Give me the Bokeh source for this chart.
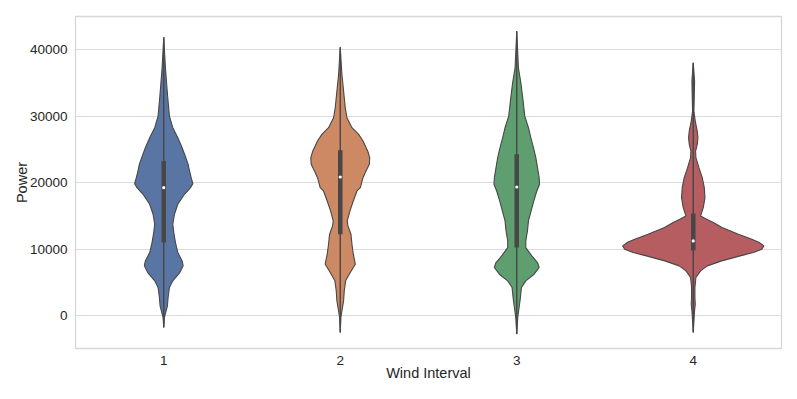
from bokeh.plotting import figure
from bokeh.models import FixedTicker, NumeralTickFormatter
from bokeh.embed import file_html
from bokeh.resources import INLINE

categories = ["1", "2", "3", "4"]
colors = ["#5975a4", "#cc8963", "#5f9e6e", "#b55d60"]

# estimated KDE profiles (value, relative density)
v1_y = [41850, 37250, 35250, 32750, 30000, 28250, 26750, 25250, 23750, 22750, 21750, 20750, 19850,
        19250, 18250, 16750, 15250, 13750, 12500, 11000, 9500, 8250, 7500, 6500, 5250, 4250, 2750,
        1500, 500, -250, -1750]
v1_d = [0, 5, 8, 12, 17, 27, 42, 55, 66, 73, 77, 82, 87,
        80, 62, 42, 32, 27, 30, 35, 42, 55, 58, 48, 27, 17, 13,
        11, 6, 2, 0]

v2_y = [40350, 36250, 33750, 31250, 29750, 28250, 27250, 26250, 24750, 23750, 22750, 21750, 20750,
        19250, 18750, 17250, 15750, 14250, 13500, 12250, 10750, 9250, 7750, 6500, 5250, 3750, 2250,
        750, -250, -2500]
v2_d = [0, 5, 10, 15, 20, 35, 55, 68, 82, 88, 87, 77, 68,
        60, 50, 39, 29, 21, 23, 32, 35, 39, 45, 30, 16, 12, 10,
        5, 2, 0]

v3_y = [42750, 37250, 34750, 32250, 30000, 28250, 26750, 25250, 23750, 22250, 20750, 19750, 18750,
        17250, 15750, 14250, 12750, 11250, 10250, 9000, 8000, 7250, 6250, 5250, 4250, 2750, 1250,
        -250, -2750]
v3_d = [0, 5, 13, 19, 24, 35, 42, 50, 57, 62, 67, 68, 60,
        51, 43, 35, 32, 27, 27, 45, 62, 67, 52, 27, 14, 11, 7,
        3, 0]

v4_y = [38000, 35250, 32750, 30750, 29250, 27750, 26750, 25750, 24750, 23750, 22250, 20750, 19250,
        17750, 16250, 15000, 14500, 14000, 13250, 12250, 11500, 11000, 10500, 10000, 9500, 9000,
        8250, 7500, 6750, 5750, 4250, 2750, 1750, 750, -750, -2500]
v4_d = [0, 4, 3, 2, 6, 12, 14, 12, 7, 8, 17, 27, 33,
        35, 30, 22, 40, 60, 86, 135, 175, 198, 211, 205, 180, 140,
        85, 42, 22, 8, 5, 5, 6, 4, 2, 0]

# box stats (q1, median, q3, whisker low, whisker high)
q1 = [11000, 12250, 10250, 9850]
med = [19250, 20850, 19350, 11250]
q3 = [23250, 24850, 24250, 15350]
wlo = [-1750, -2500, -2750, -2500]
whi = [41850, 40350, 42750, 38000]

profiles = [(v1_y, v1_d), (v2_y, v2_d), (v3_y, v3_d), (v4_y, v4_d)]
dmax = max(max(d) for _, d in profiles)

p = figure(width=789, height=391, x_range=(-0.5, 3.5), y_range=(-4910, 44955),
           output_backend="svg", toolbar_location=None,
           min_border_left=75, min_border_right=8, min_border_top=16, min_border_bottom=43)

p.background_fill_color = "white"
p.outline_line_color = "#d6d6d6"
p.outline_line_width = 1.3
p.xgrid.grid_line_color = None
p.ygrid.grid_line_color = "#dcdcdc"
p.ygrid.grid_line_width = 1.2

line_col = "#474747"
for i, (ys, ds) in enumerate(profiles):
    right = [i + 0.4 * d / dmax for d in ds]
    left = [i - 0.4 * d / dmax for d in ds]
    xs = right + left[::-1]
    yy = ys + ys[::-1]
    p.patch(xs, yy, fill_color=colors[i], line_color=line_col, line_width=1.1)
    p.segment(x0=[i], y0=[wlo[i]], x1=[i], y1=[whi[i]], line_color=line_col, line_width=1.4)
    p.segment(x0=[i], y0=[q1[i]], x1=[i], y1=[q3[i]], line_color=line_col, line_width=4.5)
    p.scatter(x=[i], y=[med[i]], size=3.2, fill_color="white", line_color=None)

p.xaxis.ticker = FixedTicker(ticks=[0, 1, 2, 3])
p.xaxis.major_label_overrides = {i: c for i, c in enumerate(categories)}
p.yaxis.ticker = FixedTicker(ticks=[0, 10000, 20000, 30000, 40000])
p.yaxis.formatter = NumeralTickFormatter(format="0")

for ax in (p.xaxis[0], p.yaxis[0]):
    ax.axis_line_color = None
    ax.major_tick_line_color = None
    ax.minor_tick_line_color = None
    ax.major_label_text_font = "Liberation Sans"
    ax.major_label_text_font_size = "13.5px"
    ax.major_label_text_color = "#262626"
    ax.axis_label_text_font = "Liberation Sans"
    ax.axis_label_text_font_size = "14.5px"
    ax.axis_label_text_font_style = "normal"
    ax.axis_label_text_color = "#262626"

p.xaxis.axis_label = "Wind Interval"
p.yaxis.axis_label = "Power"
p.xaxis.major_label_standoff = 1
p.xaxis.axis_label_standoff = -3
p.yaxis.major_label_standoff = 2
p.yaxis.axis_label_standoff = -3

open("out.html", "w").write(file_html(p, INLINE))
